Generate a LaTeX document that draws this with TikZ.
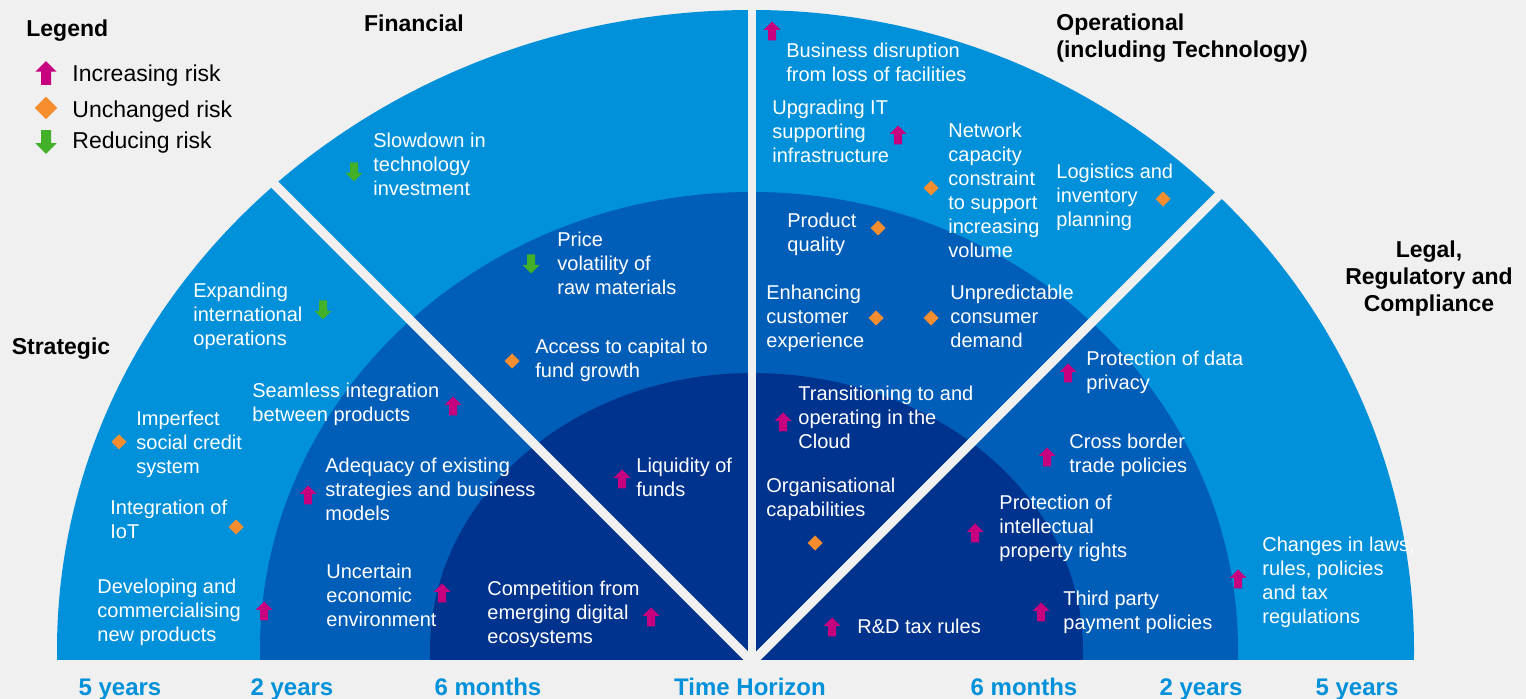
\documentclass[tikz,border=0pt]{standalone}
\usepackage{fontspec}
\setmainfont{Liberation Sans}
\definecolor{bgc}{HTML}{F0F0F0}
\definecolor{ringouter}{HTML}{0091DA}
\definecolor{ringmid}{HTML}{005EB8}
\definecolor{ringinner}{HTML}{00338D}
\definecolor{upc}{HTML}{C6007E}
\definecolor{flatc}{HTML}{F68D2E}
\definecolor{downc}{HTML}{43B02A}
\begin{document}
\begin{tikzpicture}[x=0.5pt,y=-0.5pt,
    risk/.style={anchor=north west,inner sep=0pt,align=left,text=white,font=\fontsize{10}{12}\selectfont},
    heading/.style={inner sep=0pt,font=\fontsize{11.5}{13.5}\selectfont\bfseries},
    legendtext/.style={anchor=base west,inner sep=0pt,font=\fontsize{11.5}{13.5}\selectfont},
    horizon/.style={anchor=base,inner sep=0pt,text=ringouter,font=\fontsize{12}{14}\selectfont\bfseries},
    gapline/.style={draw=bgc,line width=4.6pt},
    riskup/.pic={\fill[upc] (0,-9.5) -- (8.5,-1) -- (4,-1) -- (4,9.5) -- (-4,9.5) -- (-4,-1) -- (-8.5,-1) -- cycle;},
    riskdown/.pic={\fill[downc] (0,9.5) -- (8.5,1) -- (4,1) -- (4,-9.5) -- (-4,-9.5) -- (-4,1) -- (-8.5,1) -- cycle;},
    riskflat/.pic={\fill[flatc] (0,-7.5) -- (7.5,0) -- (0,7.5) -- (-7.5,0) -- cycle;}]
\useasboundingbox (0,0) rectangle (1526,699);
\fill[bgc] (0,0) rectangle (1526,699);

%left half of the rings
\begin{scope}
    \clip (0,0) rectangle (752,660);
    \fill[ringouter] (752,650) ellipse [x radius=695,y radius=640];
    \fill[ringmid]   (752,650) ellipse [x radius=492,y radius=458];
    \fill[ringinner] (752,650) ellipse [x radius=322,y radius=277];
\end{scope}
%right half of the rings
\begin{scope}
    \clip (752,0) rectangle (1526,660);
    \fill[ringouter] (752,650) ellipse [x radius=662,y radius=640];
    \fill[ringmid]   (752,650) ellipse [x radius=486,y radius=458];
    \fill[ringinner] (752,650) ellipse [x radius=331,y radius=277];
\end{scope}

%cut the sectors apart
\draw[gapline,line width=4pt] (752,668) -- (752,0);
\draw[gapline] (752,662) -- (252,162);
\draw[gapline] (752,662) -- (1252,162);

%legend
\node (legend) [heading,anchor=base west] at (26,37) {Legend};
\pic[scale=1.25] at (46,73) {riskup};
\node (increasing) [legendtext] at (72,82) {Increasing risk};
\pic[scale=1.5] at (46,108) {riskflat};
\node (unchanged) [legendtext] at (72,118) {Unchanged risk};
\pic[scale=1.25] at (46,142) {riskdown};
\node (reducing) [legendtext] at (72,149) {Reducing risk};

%sector titles
\node (financial) [heading] at (414,23) {Financial};
\node (strategic) [heading,anchor=base] at (61,355) {Strategic};
\node (operational) [heading,anchor=north west,align=left] at (1056,13) {Operational\\(including Technology)};
\node (legal) [heading,anchor=north,align=center] at (1429,240) {Legal,\\Regulatory and\\Compliance};

% Strategic
\node (expand) [risk] at (193,283) {Expanding\\international\\operations};
\pic at (323,310) {riskdown};
\node (imperfect) [risk] at (136,411) {Imperfect\\social credit\\system};
\pic at (119,442) {riskflat};
\node (iot) [risk] at (110,500) {Integration of\\IoT};
\pic at (236,527) {riskflat};
\node (newprod) [risk] at (97,579) {Developing and\\commercialising\\new products};
\pic at (264,611) {riskup};
\node (seamless) [risk] at (252,383) {Seamless integration\\between products};
\pic at (453,406) {riskup};
\node (adequacy) [risk] at (325,458) {Adequacy of existing\\strategies and business\\models};
\pic at (308,495) {riskup};
\node (economy) [risk] at (326,564) {Uncertain\\economic\\environment};
\pic at (442,593) {riskup};
\node (competition) [risk] at (487,581) {Competition from\\emerging digital\\ecosystems};
\pic at (651,617) {riskup};

% Financial
\node (slowdown) [risk] at (373,133) {Slowdown in\\technology\\investment};
\pic at (354,172) {riskdown};
\node (price) [risk] at (557,232) {Price\\volatility of\\raw materials};
\pic at (531,264) {riskdown};
\node (capital) [risk] at (535,339) {Access to capital to\\fund growth};
\pic at (512,361) {riskflat};
\node (liquidity) [risk] at (636,458) {Liquidity of\\funds};
\pic at (622,479) {riskup};

% Operational
\node (disruption) [risk] at (786,43) {Business disruption\\from loss of facilities};
\pic at (772,31) {riskup};
\node (upgrade) [risk] at (772,100) {Upgrading IT\\supporting\\infrastructure};
\pic at (898,135) {riskup};
\node (network) [risk] at (948,123) {Network\\capacity\\constraint\\to support\\increasing\\volume};
\pic at (931,188) {riskflat};
\node (logistics) [risk] at (1056,164) {Logistics and\\inventory\\planning};
\pic at (1163,199) {riskflat};
\node (quality) [risk] at (787,213) {Product\\quality};
\pic at (878,228) {riskflat};
\node (customer) [risk] at (766,285) {Enhancing\\customer\\experience};
\pic at (876,318) {riskflat};
\node (demand) [risk] at (950,285) {Unpredictable\\consumer\\demand};
\pic at (931,318) {riskflat};
\node (cloud) [risk] at (798,386) {Transitioning to and\\operating in the\\Cloud};
\pic at (783,422) {riskup};
\node (orgcap) [risk] at (766,478) {Organisational\\capabilities};
\pic at (815,543) {riskflat};
\node (rdtax) [risk] at (857,619) {R\&D tax rules};
\pic at (832,627) {riskup};

% Legal
\node (privacy) [risk] at (1086,351) {Protection of data\\privacy};
\pic at (1068,373) {riskup};
\node (crossborder) [risk] at (1069,434) {Cross border\\trade policies};
\pic at (1047,457) {riskup};
\node (ipright) [risk] at (999,495) {Protection of\\intellectual\\property rights};
\pic at (975,533) {riskup};
\node (thirdparty) [risk] at (1063,591) {Third party\\payment policies};
\pic at (1041,612) {riskup};
\node (laws) [risk] at (1262,537) {Changes in laws,\\rules, policies\\and tax\\regulations};
\pic at (1238,579) {riskup};

%time horizon
\node (yearsfiveleft) [horizon] at (120,695) {5 years};
\node (yearstwoleft) [horizon] at (292,695) {2 years};
\node (monthsleft) [horizon] at (488,695) {6 months};
\node (timehorizon) [horizon] at (750,695) {Time Horizon};
\node (monthsright) [horizon] at (1024,695) {6 months};
\node (yearstworight) [horizon] at (1201,695) {2 years};
\node (yearsfiveright) [horizon] at (1357,695) {5 years};
\end{tikzpicture}
\end{document}
